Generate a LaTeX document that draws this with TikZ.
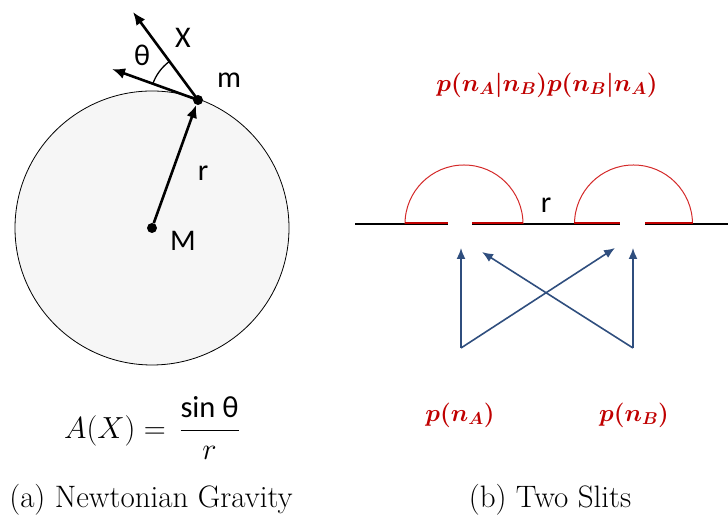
\RequirePackage{fix-cm}
\documentclass[tikz,border=0pt]{standalone}
\usepackage{amsmath}
\usepackage{fontspec}
\usepackage{tikz}
\usetikzlibrary{positioning, arrows.meta, calc}
\newfontfamily\calib{Carlito}
\definecolor{slitred}{HTML}{C00000}
\definecolor{arcred}{HTML}{D42A2A}
\definecolor{rayblue}{HTML}{2F4E7E}
\definecolor{discgray}{HTML}{F6F6F6}

\begin{document}
\begin{tikzpicture}[x=1pt, y=1pt,
    lbl/.style={font=\calib\fontsize{30}{32}\selectfont},
    redlbl/.style={text=slitred, font=\fontsize{24.5}{27}\selectfont\boldmath},
    subcap/.style={font=\fontsize{31}{33}\selectfont},
    dot/.style={circle, fill=black, inner sep=0pt, minimum size=10pt},
    force/.style={-{Latex[length=13pt, width=11pt]}, line width=2.6pt},
    ray/.style={-{Latex[length=11pt, width=9pt]}, line width=1.6pt, rayblue}]
  \useasboundingbox (0,0) rectangle (728,518);
  % (a) the planet and the small mass
  \fill[discgray] (152,290) circle (137);
  \draw[line width=0.8pt] (152,290) circle (137);
  \node[dot] (M) at (152,290) {};
  \node[dot] (m) at (198,418) {};
  \coordinate (Xtip) at (133,506);
  \coordinate (ttip) at (112,449);
  \draw[force] (M) -- (m);
  \draw[force] (m.center) -- (Xtip);
  \draw[force] (m.center) -- (ttip);
  \draw[line width=1.3pt] ($(m)+(161:48)$) arc (161:127:48);
  \node[lbl] (th) at (142,463) {θ};
  \node[lbl] (Xl) at (183,480) {X};
  \node[lbl] (ml) at (229,438) {m};
  \node[lbl] (Ml) at (183,277) {M};
  \node[lbl] (rl) at (203,345) {r};
  \node[font=\fontsize{30.5}{33}\selectfont] (law) at (152,90)
    {$A(X) = \,\dfrac{\text{\calib sin θ}}{r}$};
  \node[subcap] (capa) at (151,18) {(a) Newtonian Gravity};
  % (b) the screen with two slits
  \draw[line width=2.2pt] (355,294) -- (448,294) (472,294) -- (620,294) (645,294) -- (728,294);
  \draw[arcred, line width=1pt] (405,294) arc (180:0:59);
  \draw[arcred, line width=1pt] (574.5,294) arc (180:0:59);
  \draw[slitred, line width=1.2pt] (405,295) -- (448,295) (472,295) -- (523,295)
    (574,295) -- (620,295) (645,295) -- (693,295);
  \node[lbl] (r2) at (546,313) {r};
  \node[redlbl] (joint) at (547,433) {$p(n_A|n_B)p(n_B|n_A)$};
  % sources and where they land
  \coordinate (srcA) at (461,170);
  \coordinate (srcB) at (633,170);
  \coordinate (slitA) at (461,270);
  \coordinate (slitB) at (633,270);
  \coordinate (crossA) at (615,270);
  \coordinate (crossB) at (482,266);
  \draw[ray] (srcA) -- (slitA);
  \draw[ray] (srcB) -- (slitB);
  \draw[ray] (srcA) -- (crossA);
  \draw[ray] (srcB) -- (crossB);
  \node[redlbl] (pA) at (460,103) {$p(n_A)$};
  \node[redlbl] (pB) at (634,103) {$p(n_B)$};
  \node[subcap] (capb) at (550,18) {(b) Two Slits};
\end{tikzpicture}
\end{document}
